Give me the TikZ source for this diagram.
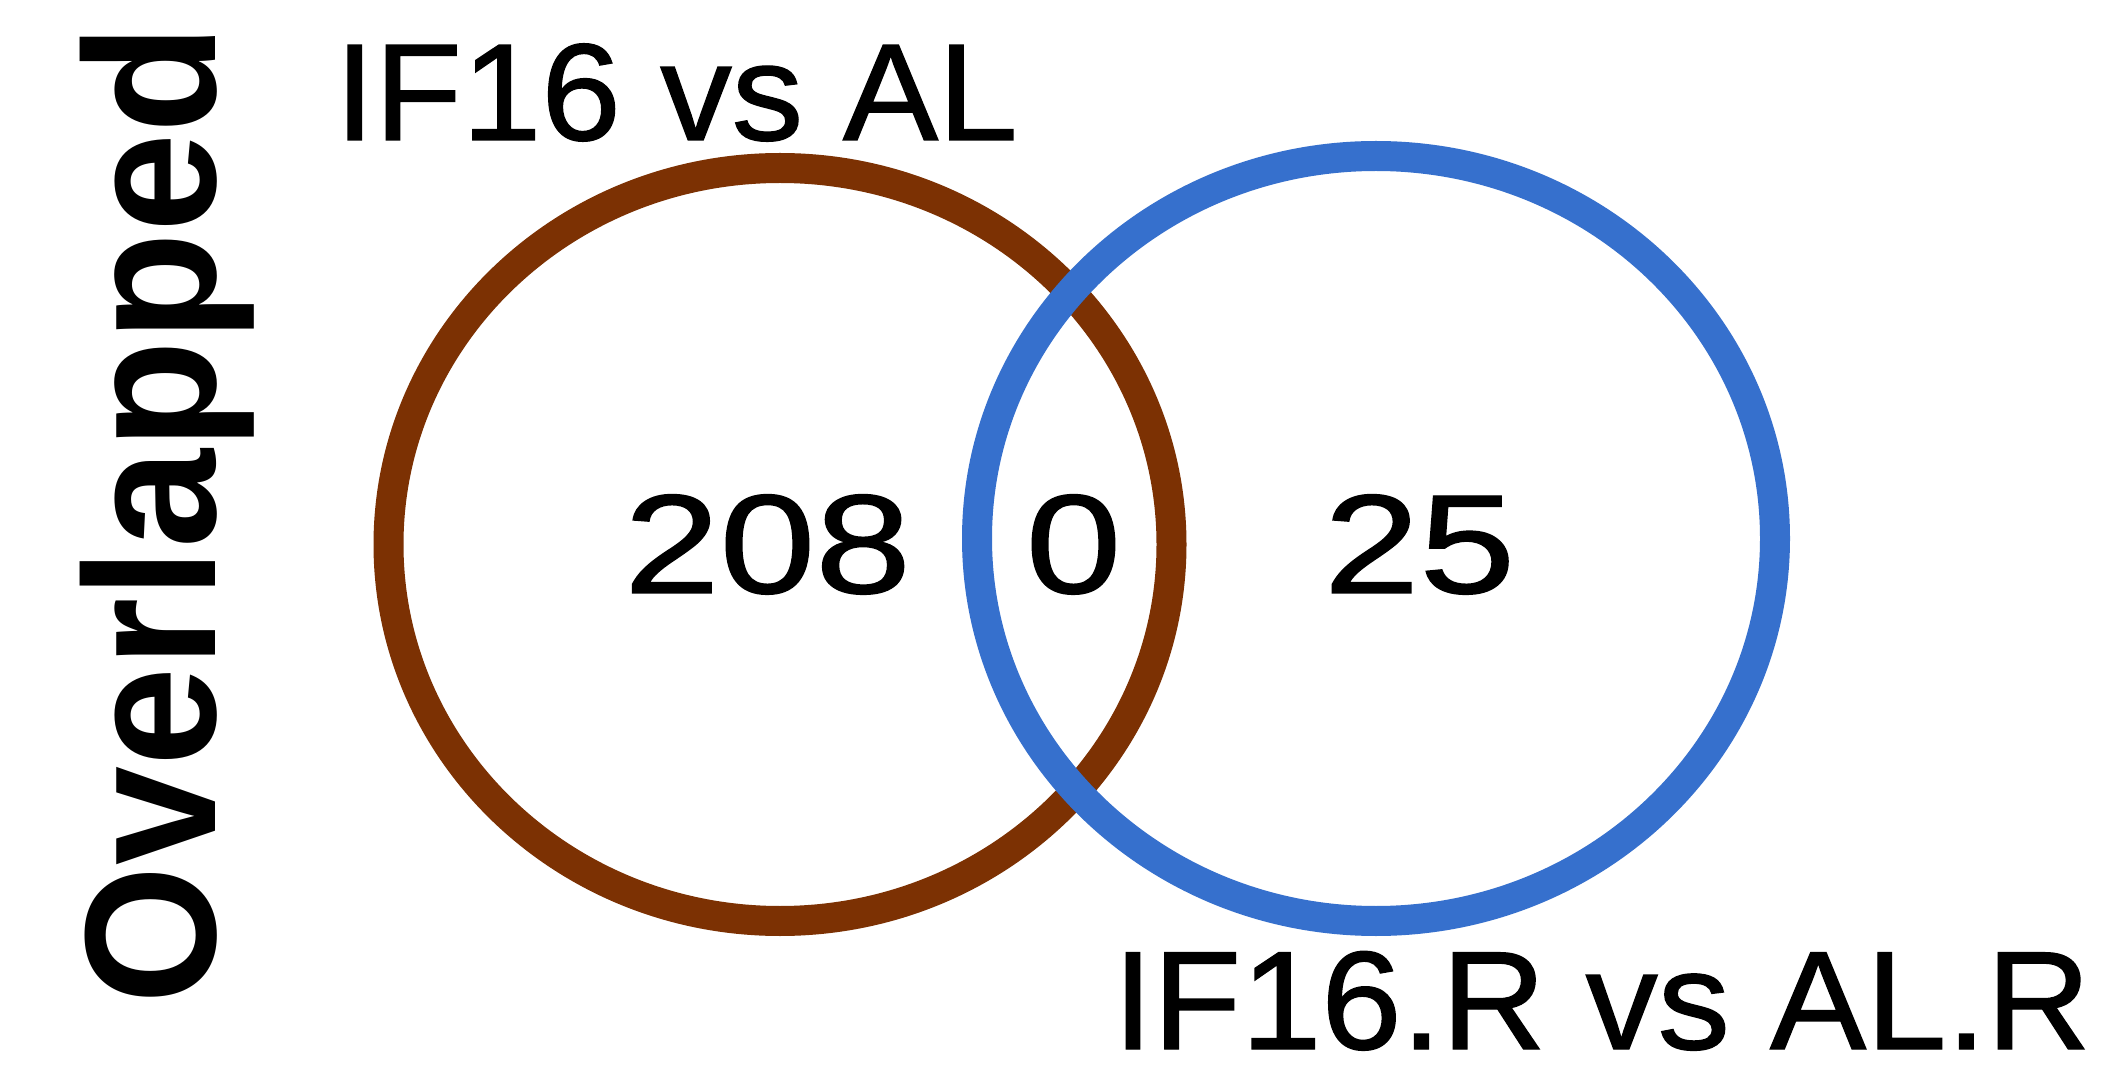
\documentclass[tikz,border=0pt]{standalone}
\usepackage{fontspec}
\setmainfont{Liberation Sans}
\newfontfamily\lblfont{Liberation Sans}[FakeBold=1]
\newfontfamily\sidefont{Liberation Sans Bold}
\usetikzlibrary{shapes.geometric}
\definecolor{setbrown}{RGB}{124,49,3}
\definecolor{setblue}{RGB}{54,112,205}
\tikzset{
  setring/.style={ellipse, draw, line width=15pt, inner sep=0pt, outer sep=0pt},
  lbl/.style={inner sep=0pt, outer sep=0pt, font=\lblfont\fontsize{69}{80}\selectfont},
  num/.style={inner sep=0pt, outer sep=0pt, anchor=base, font=\lblfont\fontsize{70.5}{80}\selectfont},
}
\begin{document}
\begin{tikzpicture}[x=0.5pt,y=-0.5pt]
\useasboundingbox (0,0) rectangle (2127,1080);
\fill[white] (0,0) rectangle (2127,1080);
% circles
\node[setring, draw=setbrown, minimum width=391.5pt, minimum height=376.5pt] (A) at (780,544.5) {};
\node[setring, draw=setblue, minimum width=399pt, minimum height=382.5pt] (B) at (1376,538.5) {};
% labels
\node[lbl, anchor=base west] (la) at (335,140) {\scalebox{1.035}[1]{IF16 vs AL}};
\node[lbl, anchor=base west, font=\lblfont\fontsize{70}{80}\selectfont] (lb) at (1113,1049) {\scalebox{1.03}[1]{IF16.R vs AL.R}};
% counts
\node[num] (n1) at (767.5,593) {\scalebox{1.22}[1]{208}};
\node[num] (n2) at (1073.5,593) {\scalebox{1.22}[1]{0}};
\node[num] (n3) at (1419.5,593) {\scalebox{1.22}[1]{25}};
% side title
\node[inner sep=0pt, outer sep=0pt, anchor=base west, rotate=90, font=\sidefont\fontsize{89}{100}\selectfont] (side) at (215,1004) {\scalebox{1}[1.05]{Overlapped}};
\end{tikzpicture}
\end{document}
